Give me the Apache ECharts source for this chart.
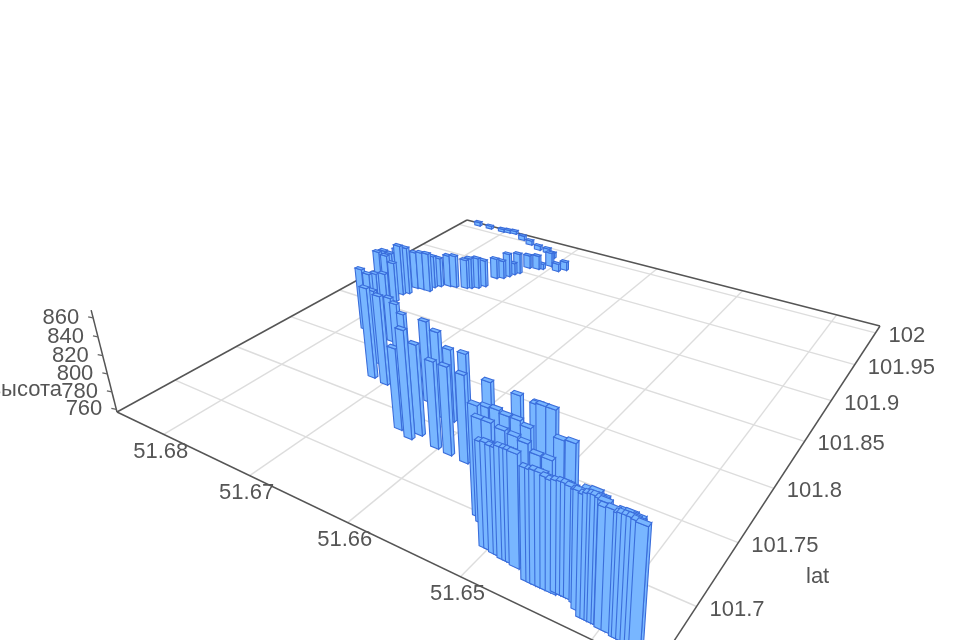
<!DOCTYPE html>
<html><head><meta charset="utf-8"><style>html,body{margin:0;background:#fff}#c{width:960px;height:640px;filter:blur(0.5px)}</style>
<script src="https://cdn.jsdelivr.net/npm/echarts@6/dist/echarts.min.js"></script></head><body><div id="c"></div>
<script>
const lonTicks=[51.68,51.67,51.66,51.65,51.64];
const latTicks=[101.7,101.75,101.8,101.85,101.9,101.95,102];
const altTicks=[760,780,800,820,840,860];
const lonValues=[
51.6839,51.6822,51.6804,51.6796,51.6788,51.6770,51.6755,51.6739,51.6726,51.6714,51.6692,51.6686,51.6705,51.6709,51.6713,51.6723,51.6725,51.6728,51.6730,51.6733,51.6739,51.6738,51.6742,51.6748,
51.6752,51.6763,51.6770,51.6778,51.6782,51.6781,51.6789,51.6796,51.6796,51.6800,51.6806,51.6808,51.6818,51.6833,51.6820,51.6806,51.6796,51.6781,51.6768,51.6763,51.6756,51.6716,51.6728,51.6699,
51.6744,51.6727,51.6722,51.6644,51.6629,51.6625,51.6649,51.6627,51.6603,51.6589,51.6615,51.6572,51.6600,51.6549,51.6524,51.6505,51.6526,51.6523,51.6515,51.6506,51.6497,51.6487,51.6495,51.6491,
51.6483,51.6462,51.6454,51.6520,51.6512,51.6500,51.6489,51.6480,51.6467,51.6458,51.6503,51.6499,51.6494,51.6490,51.6486,51.6482,51.6479,51.6475,51.6461,51.6457,51.6454,51.6450,51.6446,51.6442,
51.6439,51.6435,51.6432,51.6429,51.6414,51.6411,51.6408,51.6406,51.6403,51.6401,51.6400,51.6416,51.6411,51.6405,51.6389,51.6387,51.6384,51.6381,51.6378,51.6375,51.6390,51.6385,51.6380,51.6424,51.6420,51.6395];
const latValues=[
102.008,102.008,102.008,102.009,102.010,102.003,101.998,101.993,101.992,101.986,101.967,101.972,101.972,101.964,101.962,101.960,101.948,101.944,101.939,101.934,101.931,101.915,101.910,101.907,
101.905,101.902,101.901,101.897,101.893,101.886,101.886,101.885,101.875,101.871,101.874,101.868,101.869,101.876,101.864,101.861,101.860,101.816,101.813,101.816,101.819,101.771,101.786,101.769,
101.813,101.805,101.807,101.736,101.732,101.738,101.768,101.759,101.733,101.732,101.759,101.731,101.759,101.732,101.733,101.731,101.698,101.704,101.705,101.704,101.704,101.702,101.719,101.720,
101.720,101.703,101.704,101.695,101.695,101.694,101.693,101.692,101.688,101.688,101.681,101.681,101.680,101.680,101.679,101.679,101.679,101.678,101.673,101.673,101.673,101.673,101.673,101.673,
101.674,101.674,101.674,101.674,101.667,101.667,101.667,101.667,101.667,101.667,101.666,101.672,101.672,101.670,101.665,101.665,101.665,101.665,101.665,101.665,101.669,101.668,101.668,101.673,101.670,101.666];
const altValues=[
762,761,761,761,761,763,763,763,763,764,767,768,775,764,775,774,783,772,787,780,783,791,796,796,
794,798,797,794,798,806,805,804,816,820,812,810,810,799,811,812,806,831,831,831,831,859,842,857,
810,814,802,845,872,854,847,850,849,850,836,849,837,850,846,847,867,861,861,860,860,859,861,861,
861,858,858,860,860,859,859,858,857,857,859,860,860,860,864,864,864,865,863,863,864,864,862,861,
861,862,862,861,869,871,872,872,871,870,867,867,868,868,868,869,869,869,868,867,865,867,866,861,866,868];
const lonRange=[51.686,51.6357],latRange=[101.6576,102.0116],altRange=[757,868];
const g=-0.2985,h=0.4653,a=342.5,b=567.3,c=117,d=58,e=-89.6,f=412,k=-0.000513,vx=545,vy=2100;
const S=l=>echarts.number.linearMap(l,lonRange,[0,1]),T=l=>echarts.number.linearMap(l,latRange,[0,1]);
function P(s,t,Z){const w=g*s+h*t+1+k*Z;return [(a*s+b*t+c+k*Z*vx)/w,(d*s+e*t+f+k*Z*vy)/w];}
const proj=(lon,lat,alt)=>P(S(lon),T(lat),alt-altRange[0]);
const ds=0.008,dt=0.004;
const barDepth=v=>g*S(v[0])+h*T(v[1]);
const sorted=lonValues.map((l,i)=>[l,latValues[i],altValues[i]]).sort((p,q)=>barDepth(q)-barDepth(p));
const FILL='#78b6ff',EDGE='#3a6ddb',TXT='#555',FONT='22px "Liberation Sans"';
const line=(p,q,col,w)=>({type:'line',shape:{x1:p[0],y1:p[1],x2:q[0],y2:q[1]},style:{stroke:col,lineWidth:w},silent:true});
const txt=(x,y,t,al)=>({type:'text',x,y,style:{text:t,font:FONT,fill:TXT,align:al,verticalAlign:'middle'},silent:true});
const custom=(name,d,fn,z)=>({type:'custom',name,coordinateSystem:'none',data:d.map(v=>Array.isArray(v)?v:[v]),renderItem:(pa,api)=>fn(d[pa.dataIndex]),silent:true,animation:false,clip:false,z});
const chart=echarts.init(document.getElementById('c'),null,{renderer:'canvas'});
chart.setOption({animation:false,backgroundColor:'#fff',series:[
 custom('lonGrid',lonTicks,v=>line(P(S(v),0,0),P(S(v),1,0),'#ddd',1.4),1),
 custom('latGrid',latTicks,v=>line(P(0,T(v),0),P(1,T(v),0),'#ddd',1.4),1),
 custom('edges',[[0,0,0,1],[0,1,1,1],[1,1,1,0],[0,0,1,0]],v=>line(P(v[0],v[1],0),P(v[2],v[3],0),'#555',1.5),2),
 custom('altAxis',[0],()=>line(P(0,0,0),P(0,0,altRange[1]-altRange[0]),'#555',1.5),2),
 custom('altTickMarks',altTicks,v=>{const p=proj(lonRange[0],latRange[0],v);return line(p,[p[0]-5,p[1]-1],'#666',1.2);},2),
 custom('altLabels',altTicks,v=>{const p=proj(lonRange[0],latRange[0],v);return txt(p[0]-14,p[1],String(v),'right');},3),
 custom('lonLabels',lonTicks,v=>{const p=proj(v,latRange[0],altRange[0]);return txt(p[0]-3,p[1]+17.5,String(v),'center');},3),
 custom('latLabels',latTicks,v=>{const p=proj(lonRange[1],v,altRange[0]);return txt(p[0]+13,p[1]+3,String(v),'left');},3),
 custom('names',[[62,390,'высота','right'],[806,577,'lat','left']],v=>txt(v[0],v[1],v[2],v[3]),3),
 custom('bars',sorted,v=>{const s=S(v[0]),t=T(v[1]),Z=v[2]-altRange[0];
  const pts=(s1,t1,s2,t2)=>[P(s1,t1,0),P(s2,t2,0),P(s2,t2,Z),P(s1,t1,Z)];
  const poly=ps=>({type:'polygon',shape:{points:ps},style:{fill:FILL,stroke:EDGE,lineWidth:1.1},silent:true});
  return {type:'group',children:[
   poly(pts(s+ds,t+dt,s+ds,t-dt)),poly(pts(s+ds,t-dt,s-ds,t-dt)),
   poly([P(s-ds,t-dt,Z),P(s+ds,t-dt,Z),P(s+ds,t+dt,Z),P(s-ds,t+dt,Z)])]};
 },5)
]});
</script></body></html>
